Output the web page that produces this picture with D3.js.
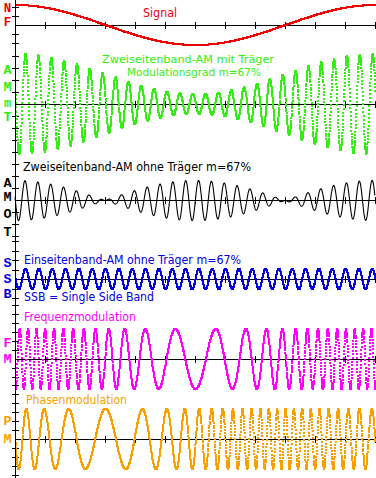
<!DOCTYPE html>
<html>
<head>
    <meta charset='utf-8'>
    <title>Modulationsarten</title>
    <script src='https://cdnjs.cloudflare.com/ajax/libs/d3/7.8.5/d3.min.js'></script>
    <style>
        body { margin: 0; background: #fff; }
        svg { display: block; }
    </style>
</head>
<body>
    <svg width='376' height='478'></svg>
    <script>
        // --- data ---
        const panelKeys = ['nf', 'amT', 'amO', 'ssb', 'fm', 'pm']
        const sideLetters = [['N', 'F'], ['A', 'M', 'm', 'T'], ['A', 'M', 'O', 'T'], ['S', 'S', 'B'], ['F', 'M'], ['P', 'M']]
        const titles = [
            ['Signal'],
            ['Zweiseitenband-AM mit Träger', 'Modulationsgrad m=67%'],
            ['Zweiseitenband-AM ohne Träger m=67%'],
            ['Einseitenband-AM ohne Träger m=67%', 'SSB = Single Side Band'],
            ['Frequenzmodulation'],
            ['Phasenmodulation']
        ]
        const modIndex = 0.67
        const carrierCycles = [0, 28, 28, 27, 26, 26]    // carrier periods per signal period
        const carrierPeakDeg = [0, 10, 10, 10, 0, 0]     // signal phase of first carrier peak
        const phaseTicks = d3.range(0, 361, 30)           // signal phase in degrees

        // --- layout ---
        const svg = d3.select('svg')
        const x0 = 15, x1 = 375
        const colors = ['#f00000', '#33ee11', '#000000', '#0000e0', '#ff00ff', '#f8a000']
        const axisY = [25, 104, 200, 279, 359, 439]
        const unitPx = [20, 30, 30, 30, 30, 30]
        const band = [[0, 51], [51, 163], [163, 240], [240, 305], [305, 385], [385, 478]]
        const tickStepPx = [9, 12, 12, 9.5, 9, 9]
        const asDots = [true, true, false, true, true, true]
        const letterY = [[11.5, 26], [74, 91, 107, 121], [187, 201, 218, 236], [267, 283, 298], [347, 363], [425, 443]]
        const titlePos = [
            [[143, 17, 34]],
            [[102, 63, 172], [127, 76, 134]],
            [[23, 171, 228]],
            [[24, 264, 217], [24, 300.5, 130]],
            [[24, 321, 112]],
            [[26, 404, 101]]
        ]

        const x = d3.scaleLinear().domain([0, 360]).range([x0, x1])
        const rad = d => d * Math.PI / 180

        function wave(k, d) {
            const t = rad(d), m = modIndex, n = carrierCycles[k]
            const c = Math.cos(n * (t - rad(carrierPeakDeg[k])))
            switch (panelKeys[k]) {
                case 'nf': return Math.cos(t)
                case 'amT': return (1 + m * Math.cos(t)) * c / (1 + m)
                case 'amO': return m * Math.cos(t) * c
                case 'ssb': return m / 2 * c
                case 'fm': return -Math.cos(n * t + m * n * Math.sin(t))
                case 'pm': return -Math.cos(n * t + m * n * Math.cos(t))
            }
        }

        const g = svg.append('g')

        panelKeys.forEach((key, k) => {
            const amp = key === 'amT' ? unitPx[k] * (1 + modIndex) : unitPx[k]
            const y = d3.scaleLinear().domain([-1, 1]).range([axisY[k] + amp, axisY[k] - amp])

            // vertical-axis ticks for this panel
            const step = tickStepPx[k] / amp
            const yTicks = d3.range(-Math.floor((band[k][1] - axisY[k]) / tickStepPx[k]), Math.floor((axisY[k] - band[k][0]) / tickStepPx[k]) + 1)
                .filter(i => i !== 0).map(i => i * step)
            g.selectAll(null).data(yTicks).enter().append('line')
                .attr('x1', x0 - 3).attr('x2', x0 + 4)
                .attr('y1', d => Math.round(y(d)) + 0.5).attr('y2', d => Math.round(y(d)) + 0.5)
                .attr('stroke', '#000')

            // horizontal axis with ticks
            g.append('line')
                .attr('x1', x0).attr('x2', 376)
                .attr('y1', axisY[k] + 0.5).attr('y2', axisY[k] + 0.5)
                .attr('stroke', '#000')
            g.selectAll(null).data(phaseTicks.slice(1)).enter().append('line')
                .attr('x1', d => Math.round(x(d)) + 0.5).attr('x2', d => Math.round(x(d)) + 0.5)
                .attr('y1', axisY[k] - 3).attr('y2', axisY[k] + 4)
                .attr('stroke', '#000')

            const samples = d3.range(0, 360, 1 / 6)
            if (asDots[k]) {
                // sampled curve drawn as pixel dots (steep parts turn dotted)
                const seen = new Set()
                const p = d3.path()
                samples.forEach(d => {
                    const px = Math.floor(x(d)), py = Math.round(y(wave(k, d)))
                    const id = px + ',' + py
                    if (!seen.has(id)) { seen.add(id); p.rect(px, py - 1, 2, 2) }
                })
                g.append('path')
                    .attr('d', p.toString())
                    .attr('fill', colors[k])
                    .attr('shape-rendering', 'crispEdges')
            } else {
                const line = d3.line().x(d => x(d)).y(d => y(wave(k, d)) + 0.5)
                g.append('path')
                    .attr('d', line(samples))
                    .attr('fill', 'none')
                    .attr('stroke', colors[k])
                    .attr('stroke-width', 1.1)
            }

            // side letters
            g.selectAll(null).data(sideLetters[k]).enter().append('text')
                .attr('x', 7.5).attr('y', (d, i) => letterY[k][i])
                .attr('text-anchor', 'middle')
                .style('font-family', 'Liberation Mono')
                .style('font-weight', 'bold')
                .style('font-size', d => d === 'm' ? '12px' : (k === 0 ? '12.5px' : '13.5px'))
                .style('fill', colors[k])
                .text(d => d)

            // titles
            titles[k].forEach((t, i) => {
                const [tx, ty, tw] = titlePos[k][i]
                g.append('text')
                    .attr('x', tx).attr('y', ty)
                    .attr('textLength', tw).attr('lengthAdjust', 'spacingAndGlyphs')
                    .style('font-family', 'DejaVu Sans')
                    .style('font-size', k === 1 ? '11px' : '11.5px')
                    .style('fill', colors[k])
                    .text(t)
            })
        })

        // vertical axis
        g.append('line')
            .attr('x1', x0 + 0.5).attr('x2', x0 + 0.5)
            .attr('y1', 0).attr('y2', 478)
            .attr('stroke', '#000')
    </script>
</body>
</html>
